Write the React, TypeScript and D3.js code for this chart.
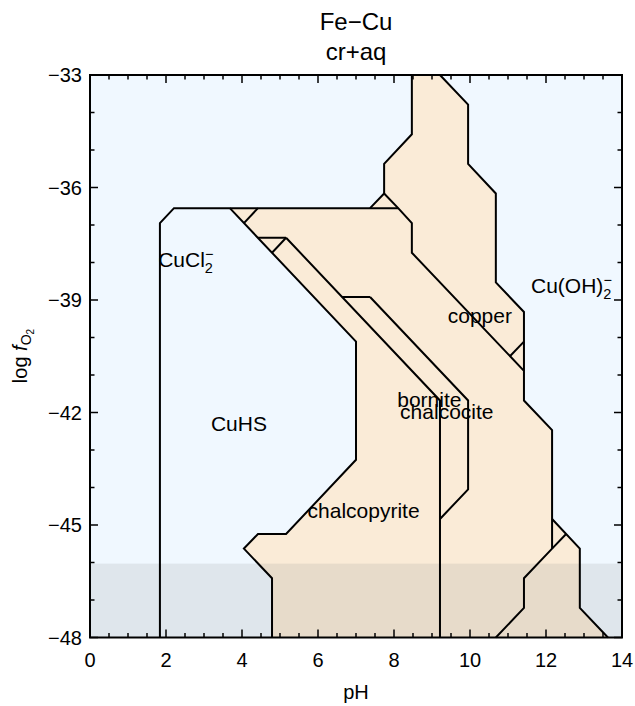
import React from "react"
import * as d3 from "d3"

type Pt = [number, number]

// axis labels
const pHTicks = [0, 2, 4, 6, 8, 10, 12, 14]
const logfTicks = [-48, -45, -42, -39, -36, -33]

// boundaries: [pH, log fO2]
const cuclCuhs: Pt[] = [[1.84, -48], [1.84, -36.95], [2.21, -36.55], [8.11, -36.55]]
const chalcopyriteEdge: Pt[] = [
  [3.68, -36.55], [7.0, -40.11], [7.0, -43.26], [5.16, -45.24], [4.42, -45.24],
  [4.05, -45.63], [4.79, -46.42], [4.79, -48]
]
const tickA: Pt[] = [[4.05, -36.95], [4.42, -36.55]]
const stepA: Pt[] = [[4.42, -37.34], [5.16, -37.34]]
const tickB: Pt[] = [[4.79, -37.74], [5.16, -37.34]]
const borniteEdge: Pt[] = [[5.16, -37.34], [9.21, -41.68], [9.21, -48]]
const stepB: Pt[] = [[6.63, -38.92], [7.37, -38.92]]
const chalcociteEdge: Pt[] = [[7.37, -38.92], [9.95, -41.68], [9.95, -44.05], [9.21, -44.84]]
const copperEdge: Pt[] = [
  [7.37, -36.55], [7.74, -36.16], [8.11, -36.55], [8.47, -36.95], [8.47, -37.74], [11.42, -40.89]
]
const upperEdge: Pt[] = [[7.74, -36.16], [7.74, -35.37], [8.47, -34.58], [8.47, -33]]
const outerEdge: Pt[] = [
  [9.21, -33], [9.95, -33.79], [9.95, -35.37], [10.68, -36.16], [10.68, -38.53],
  [11.42, -39.32], [11.42, -41.68], [12.16, -42.47], [12.16, -45.63]
]
const lowerEdge: Pt[] = [[12.53, -45.24], [12.16, -45.63], [11.42, -46.42], [11.42, -47.21], [10.68, -48]]
const rightEdge: Pt[] = [[12.16, -44.84], [12.89, -45.63], [12.89, -47.21], [13.63, -48]]
const tickC: Pt[] = [[11.05, -40.5], [11.42, -40.11]]

const boundaries = [
  cuclCuhs, chalcopyriteEdge, tickA, stepA, tickB, borniteEdge, stepB,
  chalcociteEdge, copperEdge, upperEdge, outerEdge, lowerEdge, rightEdge, tickC
]

// minerals field, built from the edges
const mineralField: Pt[] = [
  ...outerEdge.slice(0, 8),
  ...rightEdge,
  ...chalcopyriteEdge.slice().reverse(),
  ...copperEdge.slice(0, 2),
  ...upperEdge.slice(1)
]

const waterLimit = -46.03

// field names: [name, sub, sup, pH, logf]
const fieldNames: [string, string, string, number, number][] = [
  ["CuCl", "2", "−", 2.52, -37.92],
  ["CuHS", "", "", 3.92, -42.3],
  ["chalcopyrite", "", "", 7.2, -44.62],
  ["bornite", "", "", 8.93, -41.66],
  ["chalcocite", "", "", 9.39, -41.98],
  ["copper", "", "", 10.26, -39.42],
  ["Cu(OH)", "2", "−", 12.67, -38.62]
]

const W = 635
const H = 706
const left = 90
const right = 622
const top = 75
const bottom = 637.5
const font = "'Liberation Sans', Arial, sans-serif"

export default function App() {
  const x = d3.scaleLinear().domain([0, 14]).range([left, right])
  const y = d3.scaleLinear().domain([-48, -33]).range([bottom, top])
  const line = d3.line<Pt>().x(d => x(d[0])).y(d => y(d[1]))

  const xMinor = x.ticks(28)
  const yMinor = y.ticks(15)

  return (
    <svg
      width={W}
      height={H}
      style={{ position: "absolute", left: 0, top: 0, background: "white" }}
      fontFamily={font}
    >
      <rect x={left} y={top} width={right - left} height={bottom - top} fill="#F0F8FF" />
      <path d={line(mineralField) + "Z"} fill="#FAEBD7" />
      <rect
        x={left}
        y={y(waterLimit)}
        width={right - left}
        height={y(-48) - y(waterLimit)}
        fill="rgba(128,128,128,0.15)"
      />

      <g fill="none" stroke="black" strokeWidth={2} strokeLinejoin="miter">
        {boundaries.map((b, i) => (
          <path key={i} d={line(b) ?? ""} />
        ))}
      </g>

      <g fontSize={21} textAnchor="middle" fill="black">
        {fieldNames.map(([name, sub, sup, px, py]) => (
          <text key={name} x={x(px)} y={y(py) + 7.5}>
            {name}
            {sub && (
              <tspan fontSize={14.5} dy={6}>
                {sub}
              </tspan>
            )}
            {sup && (
              <tspan fontSize={14.5} dx={-8} dy={-14}>
                {sup}
              </tspan>
            )}
          </text>
        ))}
      </g>

      <g stroke="black" strokeWidth={1.5}>
        {xMinor.map(t => {
          const major = t % 2 === 0
          const len = major ? 8 : 4.5
          return (
            <g key={"x" + t}>
              <line x1={x(t)} x2={x(t)} y1={bottom} y2={bottom - len} />
              <line x1={x(t)} x2={x(t)} y1={top} y2={top + len} />
            </g>
          )
        })}
        {yMinor.map(t => {
          const major = (t + 48) % 3 === 0
          const len = major ? 8 : 4.5
          return (
            <g key={"y" + t}>
              <line x1={left} x2={left + len} y1={y(t)} y2={y(t)} />
              <line x1={right} x2={right - len} y1={y(t)} y2={y(t)} />
            </g>
          )
        })}
      </g>
      <rect
        x={left}
        y={top}
        width={right - left}
        height={bottom - top}
        fill="none"
        stroke="black"
        strokeWidth={2}
      />

      <g fontSize={20} fill="black">
        {pHTicks.map(t => (
          <text key={t} x={x(t)} y={bottom + 29} textAnchor="middle">
            {t}
          </text>
        ))}
        {logfTicks.map(t => (
          <text key={t} x={left - 8} y={y(t) + 7} textAnchor="end">
            {String(t).replace("-", "−")}
          </text>
        ))}
      </g>

      <text x={(left + right) / 2} y={699} fontSize={20} textAnchor="middle">
        pH
      </text>
      <text
        transform={`translate(27, 356) rotate(-90)`}
        fontSize={20}
        textAnchor="middle"
      >
        log <tspan fontStyle="italic">f</tspan>
        <tspan fontSize={14} dy={4}>O</tspan>
        <tspan fontSize={10} dy={3}>2</tspan>
      </text>

      <g fontSize={24} textAnchor="middle">
        <text x={(left + right) / 2} y={30}>
          Fe−Cu
        </text>
        <text x={(left + right) / 2} y={60}>
          cr+aq
        </text>
      </g>
    </svg>
  )
}
